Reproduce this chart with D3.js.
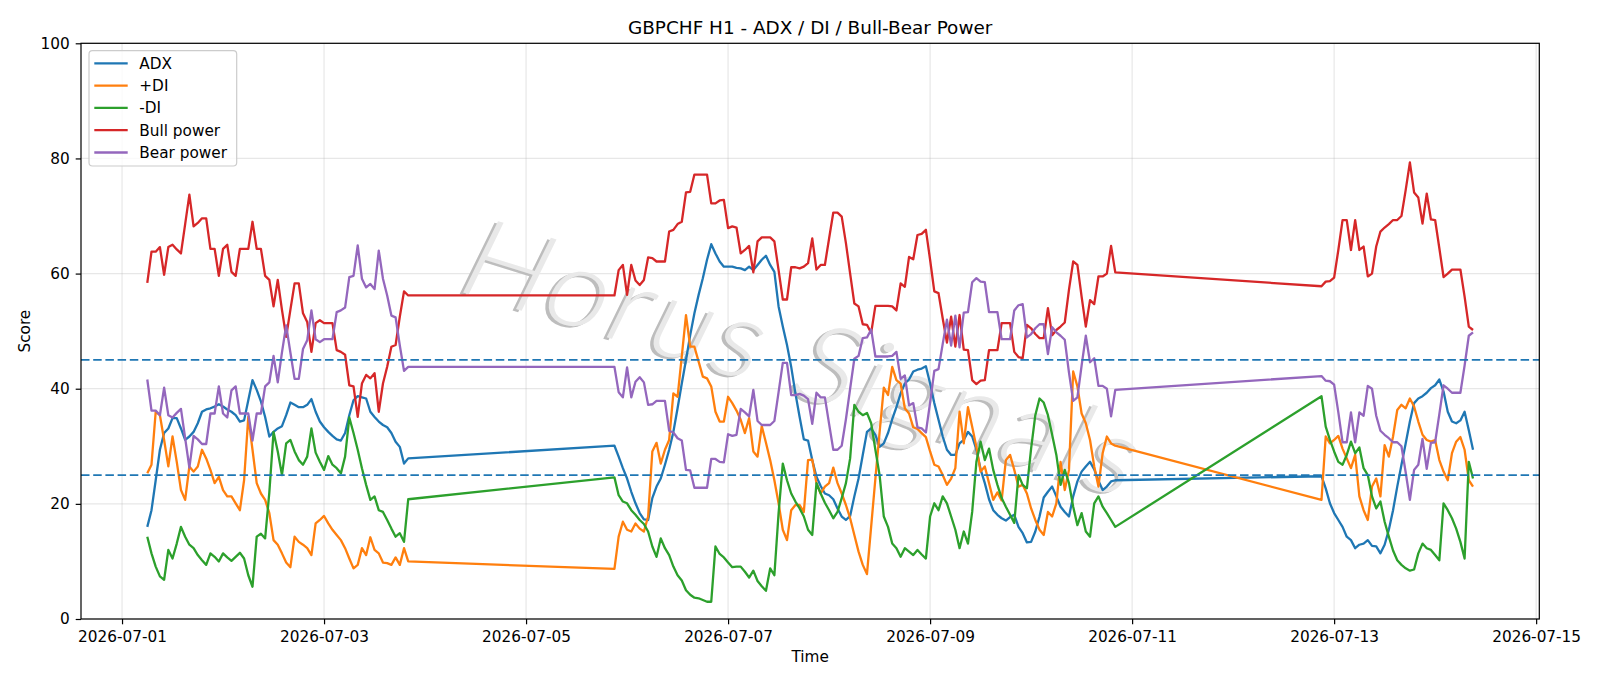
<!DOCTYPE html>
<html>
<head>
<meta charset="utf-8">
<script src="https://cdn.jsdelivr.net/npm/d3@7"></script>
<style>
  html, body { margin: 0; padding: 0; background: #fff; }
  svg { display: block; font-family: "DejaVu Sans", sans-serif; }
</style>
</head>
<body>
<div id="chart"></div>
<script>
'use strict';

// hourly bars, three trading sessions (weekend gaps in between)
var sessionStarts = ['2026-07-01T06:00:00Z', '2026-07-05T21:00:00Z', '2026-07-12T21:00:00Z'];
var sessionHours = [63, 120, 37];

var adx = [
  // session 1
  16.0, 18.9, 24.1, 29.4, 32.3, 33.1, 34.9, 34.9, 33.1, 31.1,
  31.7, 32.5, 34.0, 36.0, 36.4, 36.6, 36.9, 37.3, 36.9, 36.4,
  36.0, 35.4, 34.3, 34.5, 38.0, 41.5, 39.8, 37.8, 35.1, 31.7,
  32.5, 33.1, 33.5, 35.4, 37.6, 37.2, 36.8, 36.8, 37.2, 38.2,
  36.0, 34.3, 33.3, 32.5, 31.8, 31.2, 31.0, 32.3, 35.4, 38.0,
  38.7, 38.5, 38.3, 36.0, 35.1, 34.3, 33.7, 33.3, 32.3, 30.8,
  29.9, 27.0, 27.9,
  // session 2
  30.1, 28.2, 26.2, 24.4, 22.1, 20.1, 18.4, 17.3, 17.2, 21.0,
  23.0, 24.4, 26.8, 29.4, 32.5, 36.6, 40.9, 45.0, 49.3, 53.1,
  56.3, 59.2, 62.4, 65.1, 63.5, 62.1, 61.2, 61.2, 61.2, 61.0,
  60.9, 60.6, 61.2, 60.6, 61.5, 62.4, 63.1, 61.5, 60.3, 54.3,
  50.8, 47.6, 43.8, 39.2, 35.1, 31.2, 31.0, 27.6, 24.7, 23.1,
  21.8, 21.5, 20.8, 19.2, 17.8, 17.2, 17.9, 21.3, 24.4, 28.5,
  32.5, 33.1, 32.0, 29.9, 30.5, 32.3, 34.7, 36.8, 39.2, 40.9,
  41.6, 43.0, 43.3, 43.5, 43.9, 40.9, 37.5, 34.6, 31.7, 29.4,
  28.5, 28.5, 30.5, 31.1, 32.5, 31.7, 29.4, 26.0, 23.6, 20.8,
  18.9, 18.1, 17.5, 17.1, 17.7, 18.1, 16.0, 14.9, 13.3, 13.4,
  15.2, 17.8, 21.1, 22.1, 23.0, 21.3, 19.5, 18.6, 17.8, 21.3,
  23.9, 25.6, 26.5, 27.3, 26.0, 24.0, 22.4, 23.0, 23.9, 24.1,
  // session 3
  24.8, 22.7, 20.1, 18.4, 17.2, 16.0, 14.3, 13.7, 12.3, 12.9,
  13.1, 13.7, 12.7, 12.6, 11.4, 12.9, 15.5, 18.9, 23.0, 26.8,
  30.5, 34.3, 37.5, 38.3, 38.7, 39.3, 40.1, 40.6, 41.6, 39.5,
  36.0, 34.3, 34.0, 34.5, 36.0, 32.8, 29.4
];

var plusDI = [
  25.3, 26.8, 36.0, 35.4, 31.1, 26.5, 31.7, 27.3, 22.4, 20.7,
  26.5, 25.6, 26.5, 29.4, 27.9, 25.9, 23.6, 24.7, 22.4, 21.3,
  21.3, 20.1, 18.9, 24.1, 35.1, 29.4, 23.6, 21.8, 20.7, 18.4,
  13.7, 12.9, 11.4, 9.8, 9.0, 14.3, 13.4, 12.9, 12.3, 11.1,
  16.6, 17.2, 17.9, 16.6, 15.5, 14.6, 13.7, 12.3, 10.5, 8.8,
  9.4, 12.3, 11.1, 14.2, 12.0, 11.4, 9.8, 9.7, 9.4, 10.7,
  9.4, 12.3, 10.0,
  8.7, 14.3, 16.9, 15.5, 15.2, 16.6, 15.7, 15.2, 17.8, 29.1,
  30.6, 27.0, 29.4, 31.1, 39.2, 38.6, 45.6, 52.8, 47.3, 47.3,
  44.7, 42.1, 41.8, 40.4, 36.0, 34.3, 34.3, 38.6, 37.5, 36.2,
  34.6, 32.3, 34.9, 29.1, 28.2, 33.5, 30.6, 27.6, 24.1, 20.1,
  15.5, 13.7, 18.9, 19.8, 19.8, 18.6, 27.6, 27.7, 23.6, 21.8,
  23.0, 23.6, 26.3, 23.6, 21.8, 19.8, 17.5, 14.6, 11.7, 9.4,
  7.8, 16.1, 24.4, 32.4, 40.2, 38.9, 43.8, 41.5, 40.9, 36.6,
  35.7, 33.3, 33.0, 32.3, 31.6, 29.1, 26.8, 26.5, 25.0, 23.3,
  24.4, 26.2, 36.0, 30.5, 36.8, 33.4, 29.9, 25.6, 26.5, 23.6,
  20.7, 22.0, 20.6, 27.6, 28.5, 25.9, 23.0, 23.3, 21.8, 19.2,
  17.2, 15.5, 14.6, 18.6, 17.8, 20.1, 27.3, 22.4, 25.9, 43.0,
  40.4, 35.7, 34.0, 31.1, 26.5, 23.0, 28.8, 31.7, 30.5, 30.1,
  20.7, 31.7, 30.5, 31.1, 31.8, 29.6, 27.9, 26.2, 28.5, 21.3,
  18.9, 17.2, 23.0, 24.4, 21.3, 30.2, 28.2, 31.7, 36.3, 37.2,
  36.6, 38.3, 36.9, 34.3, 32.0, 31.1, 30.8, 31.1, 27.6, 25.6,
  24.1, 28.8, 30.8, 31.6, 29.4, 24.1, 23.0
];

var minusDI = [
  14.3, 11.4, 9.1, 7.4, 6.8, 12.0, 10.5, 13.1, 16.0, 14.3,
  12.9, 12.3, 11.1, 10.2, 9.4, 11.4, 10.8, 10.0, 11.4, 10.7,
  10.1, 10.8, 11.5, 10.5, 7.6, 5.6, 14.3, 14.8, 14.0, 22.0,
  32.5, 29.1, 25.0, 30.5, 31.1, 29.1, 27.6, 26.8, 28.2, 33.1,
  28.9, 27.3, 25.9, 28.3, 26.8, 26.2, 25.3, 28.2, 35.0, 32.3,
  29.4, 26.2, 23.3, 20.7, 21.3, 18.9, 18.6, 17.2, 15.7, 14.3,
  14.9, 13.4, 20.8,
  24.6, 21.5, 20.4, 20.1, 18.9, 18.1, 17.2, 16.5, 15.2, 12.6,
  10.8, 14.0, 12.3, 11.1, 9.1, 7.6, 6.7, 5.0, 4.2, 3.7,
  3.6, 3.3, 3.0, 3.0, 12.6, 11.3, 10.7, 9.8, 9.0, 9.1,
  9.1, 8.2, 7.2, 8.4, 6.6, 5.7, 4.9, 8.8, 7.6, 18.4,
  27.0, 24.1, 21.8, 20.4, 19.2, 17.8, 15.5, 14.6, 23.6, 21.8,
  20.2, 18.9, 17.5, 18.6, 21.0, 23.6, 27.9, 37.2, 36.0, 35.4,
  35.8, 34.0, 29.4, 25.0, 17.8, 16.0, 13.1, 12.3, 10.8, 12.3,
  11.7, 11.1, 12.0, 11.2, 10.5, 17.8, 20.1, 18.9, 21.3, 20.1,
  17.8, 15.5, 12.3, 15.2, 13.1, 18.6, 27.3, 30.8, 27.6, 29.6,
  25.9, 23.3, 21.0, 19.5, 18.1, 16.7, 25.0, 23.3, 22.7, 29.6,
  35.4, 38.3, 37.6, 35.4, 32.0, 28.5, 23.3, 25.9, 23.6, 19.5,
  16.3, 18.4, 15.2, 14.3, 20.1, 21.3, 19.5, 18.4, 17.2, 16.0,
  38.7, 33.4, 31.1, 29.1, 27.3, 26.8, 28.5, 30.8, 28.8, 29.8,
  26.2, 25.0, 21.3, 19.2, 20.4, 16.9, 14.3, 11.9, 10.2, 9.4,
  8.8, 8.4, 8.6, 11.4, 13.1, 12.3, 12.0, 11.1, 10.2, 20.1,
  18.9, 17.5, 15.7, 13.4, 10.5, 27.3, 24.4
];

var bullPower = [
  58.4, 63.8, 63.8, 64.6, 59.8, 64.6, 65.0, 64.2, 63.5, 68.6,
  73.7, 68.2, 68.8, 69.6, 69.6, 64.3, 64.3, 59.6, 64.3, 65.0,
  60.3, 59.6, 64.3, 64.3, 64.3, 69.0, 64.3, 64.3, 59.6, 58.9,
  54.3, 58.9, 53.7, 49.0, 53.7, 58.3, 58.3, 53.1, 51.6, 46.4,
  51.4, 51.9, 51.4, 51.4, 51.4, 46.7, 46.4, 45.9, 40.6, 40.4,
  35.1, 40.9, 42.4, 41.8, 42.7, 36.0, 40.9, 43.8, 47.3, 47.6,
  52.5, 56.9, 56.2,
  56.2, 60.6, 61.5, 56.3, 61.5, 58.8, 58.0, 58.9, 62.8, 62.7,
  62.1, 62.1, 62.1, 67.3, 67.6, 68.6, 69.0, 74.1, 74.2, 77.2,
  77.2, 77.2, 77.2, 72.2, 72.2, 72.7, 72.8, 67.9, 68.2, 68.0,
  63.5, 64.1, 64.8, 60.2, 65.6, 66.3, 66.3, 66.3, 65.6, 60.6,
  55.5, 55.5, 61.1, 61.1, 60.9, 61.2, 61.8, 66.1, 60.7, 61.5,
  61.5, 66.1, 70.6, 70.6, 69.9, 65.3, 60.0, 54.8, 54.3, 51.2,
  51.1, 49.7, 54.4, 54.4, 54.4, 54.4, 54.3, 53.6, 58.3, 57.7,
  62.9, 62.5, 66.7, 66.9, 67.6, 62.4, 56.9, 56.6, 52.2, 48.0,
  52.5, 47.3, 52.8, 46.8, 46.7, 41.5, 40.8, 41.4, 41.5, 46.7,
  46.7, 46.7, 51.4, 51.4, 51.4, 46.4, 45.5, 45.3, 51.1, 50.5,
  49.5, 48.8, 48.8, 54.0, 49.3, 50.2, 50.8, 51.5, 57.2, 62.1,
  61.5, 56.0, 50.8, 55.4, 54.7, 59.5, 59.5, 60.0, 64.8, 60.2,
  57.8, 58.6, 58.7, 59.3, 64.1, 69.3, 69.3, 64.1, 69.3, 64.1,
  64.7, 59.5, 60.0, 64.7, 67.3, 68.0, 68.6, 69.3, 69.3, 70.0,
  74.5, 79.3, 74.1, 73.2, 68.7, 73.9, 69.4, 69.3, 64.4, 59.4,
  60.0, 60.7, 60.7, 60.7, 56.0, 50.8, 50.2
];

var bearPower = [
  41.6, 36.2, 36.2, 35.4, 40.2, 35.4, 35.0, 35.8, 36.5, 31.4,
  26.3, 31.8, 31.2, 30.4, 30.4, 35.7, 35.7, 40.4, 35.7, 35.0,
  39.7, 40.4, 35.7, 35.7, 35.7, 31.0, 35.7, 35.7, 40.4, 41.1,
  45.7, 41.1, 46.3, 51.0, 46.3, 41.7, 41.7, 46.9, 48.4, 53.6,
  48.6, 48.1, 48.6, 48.6, 48.6, 53.3, 53.6, 54.1, 59.4, 59.6,
  64.9, 59.1, 57.6, 58.2, 57.3, 64.0, 59.1, 56.2, 52.7, 52.4,
  47.5, 43.1, 43.8,
  43.8, 39.4, 38.5, 43.7, 38.5, 41.2, 42.0, 41.1, 37.2, 37.3,
  37.9, 37.9, 37.9, 32.7, 32.4, 31.4, 31.0, 25.9, 25.8, 22.8,
  22.8, 22.8, 22.8, 27.8, 27.8, 27.3, 27.2, 32.1, 31.8, 32.0,
  36.5, 35.9, 35.2, 39.8, 34.4, 33.7, 33.7, 33.7, 34.4, 39.4,
  44.5, 44.5, 38.9, 38.9, 39.1, 38.8, 38.2, 33.9, 39.3, 38.5,
  38.5, 33.9, 29.4, 29.4, 30.1, 34.7, 40.0, 45.2, 45.7, 48.8,
  48.9, 50.3, 45.6, 45.6, 45.6, 45.6, 45.7, 46.4, 41.7, 42.3,
  37.1, 37.5, 33.3, 33.1, 32.4, 37.6, 43.1, 43.4, 47.8, 52.0,
  47.5, 52.7, 47.2, 53.2, 53.3, 58.5, 59.2, 58.6, 58.5, 53.3,
  53.3, 53.3, 48.6, 48.6, 48.6, 53.6, 54.5, 54.7, 48.9, 49.5,
  50.5, 51.2, 51.2, 46.0, 50.7, 49.8, 49.2, 48.5, 42.8, 37.9,
  38.5, 44.0, 49.2, 44.6, 45.3, 40.5, 40.5, 40.0, 35.2, 39.8,
  42.2, 41.4, 41.3, 40.7, 35.9, 30.7, 30.7, 35.9, 30.7, 35.9,
  35.3, 40.5, 40.0, 35.3, 32.7, 32.0, 31.4, 30.7, 30.7, 30.0,
  25.5, 20.7, 25.9, 26.8, 31.3, 26.1, 30.6, 30.7, 35.6, 40.6,
  40.0, 39.3, 39.3, 39.3, 44.0, 49.2, 49.8
];

var seriesNames = ['ADX', '+DI', '-DI', 'Bull power', 'Bear power'];
var seriesColors = ['#1f77b4', '#ff7f0e', '#2ca02c', '#d62728', '#9467bd'];
var xTickDates = ['2026-07-01', '2026-07-03', '2026-07-05', '2026-07-07',
                  '2026-07-09', '2026-07-11', '2026-07-13', '2026-07-15'];
var yTickValues = [0, 20, 40, 60, 80, 100];
var levels = [25, 45];
var chartTitle = 'GBPCHF H1 - ADX / DI / Bull-Bear Power';
var watermark = 'Horus Signals';

function render() {
  var width = 1600;
  var height = 686;
  var left = 81, right = 1539.3, top = 43.3, bottom = 619;

  var times = [];
  sessionStarts.forEach(function(s, i) {
    var t0 = new Date(s).getTime();
    for (var k = 0; k < sessionHours[i]; k++) times.push(new Date(t0 + k * 3600e3));
  });

  // matplotlib-style 5% margin on the time axis
  var ext = d3.extent(times);
  var pad = (ext[1] - ext[0]) * 0.05;
  var x = d3.scaleUtc()
    .domain([new Date(+ext[0] - pad), new Date(+ext[1] + pad)])
    .range([left, right]);
  var y = d3.scaleLinear().domain([0, 100]).range([bottom, top]);

  d3.select('#chart').selectAll('svg').remove();
  var svg = d3.select('#chart').append('svg')
    .attr('width', width)
    .attr('height', height);

  svg.append('rect').attr('width', width).attr('height', height).attr('fill', '#fff');

  svg.append('defs').append('clipPath').attr('id', 'plotclip')
    .append('rect')
    .attr('x', left).attr('y', top)
    .attr('width', right - left).attr('height', bottom - top);

  // grid
  var grid = svg.append('g').attr('stroke', '#b0b0b0').attr('stroke-opacity', 0.3).attr('stroke-width', 1.2);
  var xTicks = xTickDates.map(function(d) { return new Date(d + 'T00:00:00Z'); });
  grid.selectAll('line.vx').data(xTicks).enter().append('line')
    .attr('x1', function(d) { return x(d); }).attr('x2', function(d) { return x(d); })
    .attr('y1', top).attr('y2', bottom);
  grid.selectAll('line.hy').data(yTickValues).enter().append('line')
    .attr('x1', left).attr('x2', right)
    .attr('y1', function(d) { return y(d); }).attr('y2', function(d) { return y(d); });

  // watermark: light slanted text with a soft grey shadow
  var wm = svg.append('g')
    .attr('clip-path', 'url(#plotclip)')
    .append('g')
    .attr('transform', 'matrix(0.955,0.298,-0.44,0.90,452,289)');
  var wmFont = 'Lato, Roboto, "Open Sans", sans-serif';
  wm.append('text').text(watermark)
    .attr('x', -2.5).attr('y', 2.5)
    .style('font-family', wmFont)
    .attr('font-size', 112).attr('font-weight', 300)
    .attr('textLength', 700).attr('lengthAdjust', 'spacing')
    .attr('fill', '#bdbdbd');
  wm.append('text').text(watermark)
    .attr('x', 0).attr('y', 0)
    .style('font-family', wmFont)
    .attr('font-size', 112).attr('font-weight', 300)
    .attr('textLength', 700).attr('lengthAdjust', 'spacing')
    .attr('fill', '#e9e9e9');

  // series
  var series = [adx, plusDI, minusDI, bullPower, bearPower];
  var line = d3.line()
    .x(function(d, i) { return x(times[i]); })
    .y(function(d) { return y(d); });
  var plot = svg.append('g').attr('clip-path', 'url(#plotclip)');
  series.forEach(function(vals, i) {
    plot.append('path')
      .attr('d', line(vals))
      .attr('fill', 'none')
      .attr('stroke', seriesColors[i])
      .attr('stroke-width', 2.3)
      .attr('stroke-linejoin', 'round');
  });

  // threshold levels
  plot.selectAll('line.level').data(levels).enter().append('line')
    .attr('x1', left).attr('x2', right)
    .attr('y1', function(d) { return y(d); }).attr('y2', function(d) { return y(d); })
    .attr('stroke', '#1f77b4')
    .attr('stroke-width', 1.8)
    .attr('stroke-dasharray', '8.5,3.7');

  // axes
  var xAxis = d3.axisBottom(x)
    .tickValues(xTicks)
    .tickFormat(d3.utcFormat('%Y-%m-%d'))
    .tickSizeInner(5.3).tickSizeOuter(0).tickPadding(7);
  var gx = svg.append('g').attr('transform', 'translate(0,' + bottom + ')').call(xAxis);

  var yAxis = d3.axisLeft(y)
    .tickValues(yTickValues)
    .tickSizeInner(5.3).tickSizeOuter(0).tickPadding(6);
  var gy = svg.append('g').attr('transform', 'translate(' + left + ',0)').call(yAxis);

  [gx, gy].forEach(function(g) {
    g.select('.domain').remove();
    g.selectAll('.tick line').attr('stroke', '#000').attr('stroke-width', 1.2);
    g.selectAll('.tick text')
      .attr('fill', '#000')
      .style('font-family', '"DejaVu Sans", sans-serif')
      .style('font-size', '15.3px');
  });

  // frame
  svg.append('rect')
    .attr('x', left).attr('y', top)
    .attr('width', right - left).attr('height', bottom - top)
    .attr('fill', 'none').attr('stroke', '#000').attr('stroke-width', 1.2);

  // labels
  svg.append('text')
    .attr('x', (left + right) / 2).attr('y', 34)
    .attr('text-anchor', 'middle')
    .attr('font-size', '18.4px')
    .text(chartTitle);
  svg.append('text')
    .attr('x', (left + right) / 2).attr('y', 662)
    .attr('text-anchor', 'middle')
    .attr('font-size', '15.3px')
    .text('Time');
  svg.append('text')
    .attr('transform', 'translate(30,' + ((top + bottom) / 2) + ') rotate(-90)')
    .attr('text-anchor', 'middle')
    .attr('font-size', '15.3px')
    .text('Score');

  // legend
  var lg = svg.append('g');
  lg.append('rect')
    .attr('x', 89).attr('y', 50.7)
    .attr('width', 147.7).attr('height', 115.3)
    .attr('rx', 3.5)
    .attr('fill', '#fff').attr('fill-opacity', 0.8)
    .attr('stroke', '#cccccc').attr('stroke-width', 1.2);
  var items = lg.selectAll('g.item').data(seriesNames).enter().append('g')
    .attr('transform', function(d, i) { return 'translate(0,' + (63.3 + i * 22.3) + ')'; });
  items.append('line')
    .attr('x1', 94.3).attr('x2', 127.7)
    .attr('stroke', function(d, i) { return seriesColors[i]; })
    .attr('stroke-width', 2.3);
  items.append('text')
    .attr('x', 139.3).attr('dy', '0.36em')
    .attr('font-size', '15.3px')
    .text(function(d) { return d; });
}

render();
</script>
</body>
</html>
